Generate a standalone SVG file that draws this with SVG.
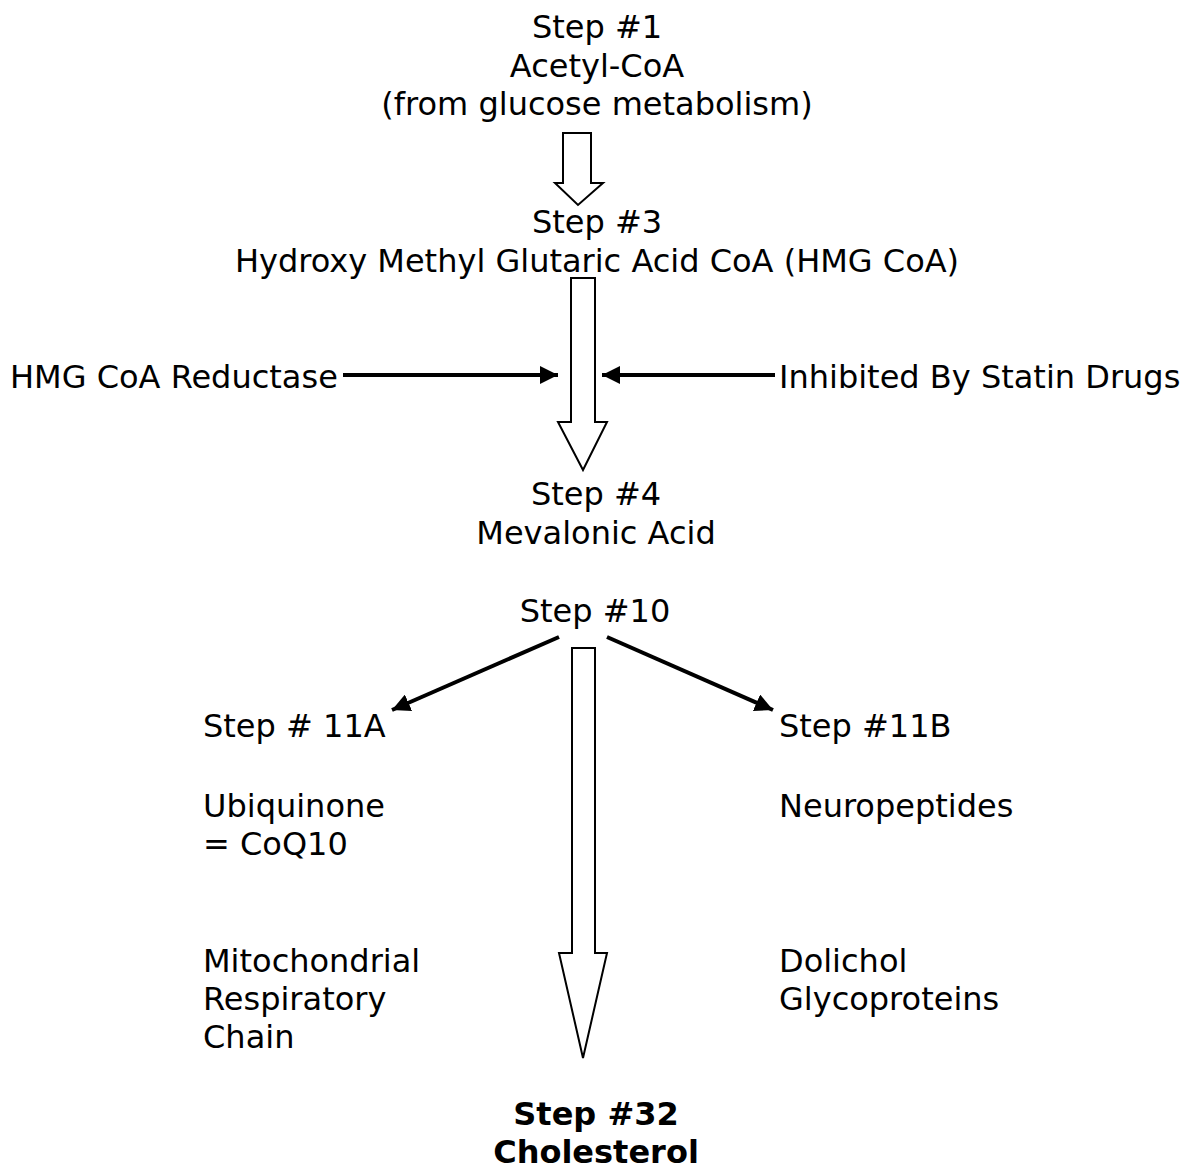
<svg xmlns="http://www.w3.org/2000/svg" width="1195" height="1170" viewBox="0 0 1195 1170">
<defs>
<style>
text{font-family:"DejaVu Sans","Verdana",sans-serif;font-size:32px;fill:#000}
.c{text-anchor:middle}
.b{font-weight:bold}
.block{fill:#fff;stroke:#000;stroke-width:2}
.line{stroke:#000;stroke-width:4;fill:none}
</style>
<marker id="ah" viewBox="0 0 10 10" refX="10" refY="5" markerWidth="4.5" markerHeight="4.5" markerUnits="strokeWidth" orient="auto">
<path d="M0,0 L10,5 L0,10 z" fill="#000"/>
</marker>
</defs>
<rect width="1195" height="1170" fill="#fff"/>
<g id="step1"><text class="c" x="597" y="38">Step #1</text><text class="c" x="597" y="77">Acetyl-CoA</text><text class="c" x="597" y="115">(from glucose metabolism)</text></g>
<g id="step3"><text class="c" x="597" y="233">Step #3</text><text class="c" x="597" y="272">Hydroxy Methyl Glutaric Acid CoA (HMG CoA)</text></g>
<g id="reductase"><text x="10" y="388">HMG CoA Reductase</text></g>
<g id="statin"><text x="779" y="388">Inhibited By Statin Drugs</text></g>
<g id="step4"><text class="c" x="596" y="505">Step #4</text><text class="c" x="596" y="544">Mevalonic Acid</text></g>
<g id="step10"><text class="c" x="595" y="622">Step #10</text></g>
<g id="step11a"><text x="203" y="737">Step # 11A</text><text x="203" y="817">Ubiquinone</text><text x="203" y="855">= CoQ10</text><text x="203" y="972">Mitochondrial</text><text x="203" y="1010">Respiratory</text><text x="203" y="1048">Chain</text></g>
<g id="step11b"><text x="779" y="737">Step #11B</text><text x="779" y="817">Neuropeptides</text><text x="779" y="972">Dolichol</text><text x="779" y="1010">Glycoproteins</text></g>
<g id="step32"><text class="c b" x="596" y="1125">Step #32</text><text class="c b" x="596" y="1163">Cholesterol</text></g>
<g id="connectors">
<path class="block" d="M563,133 H591 V183 H603 L578,205 L555,183 H563 Z"/>
<path class="block" d="M571,278 H595 V422 H607 L583,470 L558,422 H571 Z"/>
<path class="block" d="M572,648 H595 V953 H607 L583,1058 L559,953 H572 Z"/>
<line class="line" x1="343" y1="375" x2="558" y2="375" marker-end="url(#ah)"/>
<line class="line" x1="775" y1="375" x2="602" y2="375" marker-end="url(#ah)"/>
<line class="line" x1="559" y1="637" x2="392" y2="710" marker-end="url(#ah)"/>
<line class="line" x1="607" y1="637" x2="773" y2="710" marker-end="url(#ah)"/>
</g>
</svg>
